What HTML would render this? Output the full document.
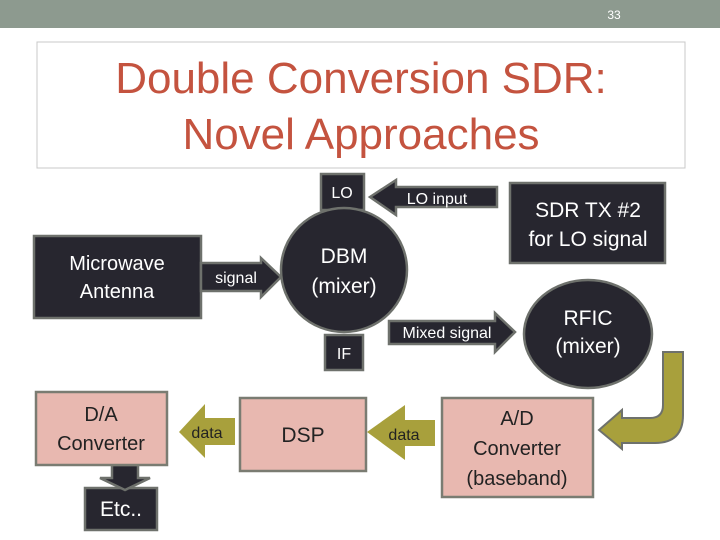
<!DOCTYPE html>
<html><head><meta charset="utf-8"><style>
body{margin:0;background:#fff;}
svg{display:block;font-family:"Liberation Sans",Arial,sans-serif;}
</style></head><body>
<svg width="720" height="540" viewBox="0 0 720 540" xmlns="http://www.w3.org/2000/svg">
<rect x="0" y="0" width="720" height="28" fill="#8d9a8f"/>
<text x="614" y="19" font-size="12" fill="#fff" text-anchor="middle">33</text>
<rect x="37" y="42" width="648" height="126" fill="#fff" stroke="#c8c8c8" stroke-width="1"/>
<text x="361" y="93" font-size="44" fill="#c4533f" text-anchor="middle">Double Conversion SDR:</text>
<text x="361" y="149" font-size="44" fill="#c4533f" text-anchor="middle">Novel Approaches</text>

<g stroke="#6e716c" stroke-width="2.5" fill="#27262f">
<rect x="321" y="174" width="43" height="36"/>
<polygon points="497,187 497,207 396,207 396,215 370,197 396,180 396,187"/>
<rect x="510" y="183" width="155" height="80"/>
<rect x="34" y="236" width="167" height="82"/>
<polygon points="201,263 261,263 261,258 281,277 261,297 261,291 201,291"/>
<ellipse cx="344" cy="270" rx="63" ry="62"/>
<polygon points="389,321 495,321 495,313 515,332 495,352 495,344 389,344"/>
<rect x="325" y="335" width="38" height="35"/>
<ellipse cx="588" cy="334" rx="64" ry="54"/>
<rect x="85" y="488" width="72" height="42"/>
<polygon points="112,465 138,465 138,478 150,478 125,490 100,478 112,478"/>
</g>
<g fill="#fff" text-anchor="middle">
<text x="342" y="198" font-size="16">LO</text>
<text x="437" y="204" font-size="16">LO input</text>
<text x="588" y="217" font-size="21">SDR TX #2</text>
<text x="588" y="246" font-size="21">for LO signal</text>
<text x="117" y="270" font-size="20">Microwave</text>
<text x="117" y="298" font-size="20">Antenna</text>
<text x="236" y="283" font-size="16">signal</text>
<text x="344" y="263" font-size="21">DBM</text>
<text x="344" y="293" font-size="21">(mixer)</text>
<text x="447" y="338" font-size="16">Mixed signal</text>
<text x="344" y="359" font-size="16">IF</text>
<text x="588" y="325" font-size="21">RFIC</text>
<text x="588" y="353" font-size="21">(mixer)</text>
<text x="121" y="516" font-size="21">Etc..</text>
</g>

<g stroke="#7a7c72" stroke-width="2.5" fill="#e8b8b0">
<rect x="36" y="392" width="131" height="73"/>
<rect x="240" y="398" width="126" height="73"/>
<rect x="442" y="398" width="151" height="99"/>
</g>
<g stroke="none" fill="#a8a03c">
<polygon points="235,418 205,418 205,404 179,432 205,458 205,445 235,445"/>
<polygon points="435,420 405,420 405,405 367,432 405,460 405,446 435,446"/>
</g>
<path d="M663,352 L683,352 L683,415 Q683,443 655,443 L622,443 L622,449 L599,430 L622,410 L622,418 L650,418 Q663,418 663,405 Z" fill="#a8a03c" stroke="#6e716c" stroke-width="2"/>
<g fill="#222" text-anchor="middle">
<text x="101" y="421" font-size="20">D/A</text>
<text x="101" y="450" font-size="20">Converter</text>
<text x="303" y="442" font-size="21">DSP</text>
<text x="517" y="425" font-size="20">A/D</text>
<text x="517" y="455" font-size="20">Converter</text>
<text x="517" y="485" font-size="20">(baseband)</text>
<text x="207" y="438" font-size="16">data</text>
<text x="404" y="440" font-size="16">data</text>
</g>
</svg>
</body></html>
